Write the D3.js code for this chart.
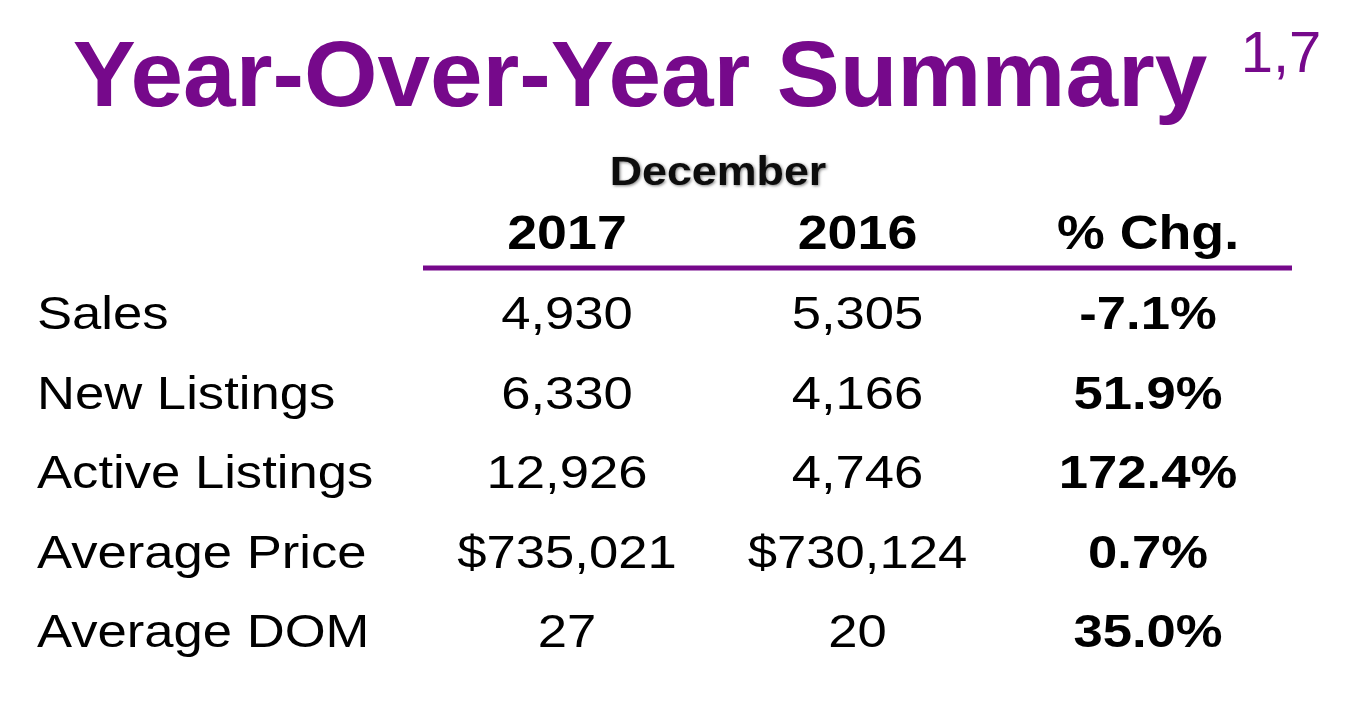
<!DOCTYPE html>
<html><head><meta charset="utf-8">
<script src="https://cdn.jsdelivr.net/npm/d3@7"></script>
<style>body{margin:0;background:#fff}text{font-family:"Liberation Sans",Arial,sans-serif}</style>
</head><body>
<svg id="c" width="1345" height="701"></svg>
<script>
const metrics = ["Sales","New Listings","Active Listings","Average Price","Average DOM"];
const columns = ["2017","2016","% Chg."];
const values2017 = ["4,930","6,330","12,926","$735,021","27"];
const values2016 = ["5,305","4,166","4,746","$730,124","20"];
const pctChange = ["-7.1%","51.9%","172.4%","0.7%","35.0%"];

const svg = d3.select("#c");
const purple = "#76098b";
const SX = 1.12;
function T(sel, x, y, sx){ return sel.attr("transform",`translate(${x},${y}) scale(${sx},1)`); }

T(svg.append("text"),640,106,1.027).attr("text-anchor","middle")
  .attr("font-size",92).attr("font-weight","bold").attr("fill",purple).text("Year-Over-Year Summary");
T(svg.append("text"),1281,72,1.0).attr("text-anchor","middle")
  .attr("font-size",58).attr("fill",purple).text("1,7");

const x = d3.scalePoint().domain(columns).range([567,1148]);
const y = d3.scalePoint().domain(metrics).range([329,647]);

const f = svg.append("defs").append("filter").attr("id","sh").attr("x","-10%").attr("y","-30%").attr("width","120%").attr("height","160%");
f.append("feDropShadow").attr("dx",1).attr("dy",1).attr("stdDeviation",1.5).attr("flood-color","#000").attr("flood-opacity",0.5);
T(svg.append("text"),718,185,1.12).attr("text-anchor","middle").attr("font-size",40)
  .attr("font-weight","bold").attr("fill","#111").attr("filter","url(#sh)").text("December");

svg.selectAll(".hdr").data(columns).join("text").each(function(d){T(d3.select(this),x(d),249,SX);})
  .attr("text-anchor","middle").attr("font-size",48).attr("font-weight","bold").attr("fill","#000").text(d=>d);
svg.append("line").attr("x1",423).attr("x2",1292).attr("y1",268).attr("y2",268)
  .attr("stroke",purple).attr("stroke-width",5);

const g = svg.selectAll(".row").data(metrics).join("g").attr("transform",d=>`translate(0,${y(d)})`);
T(g.append("text"),37,0,SX).attr("font-size",47).attr("fill","#000").text(d=>d);
T(g.append("text"),x("2017"),0,SX).attr("text-anchor","middle").attr("font-size",47).text((d,i)=>values2017[i]);
T(g.append("text"),x("2016"),0,SX).attr("text-anchor","middle").attr("font-size",47).text((d,i)=>values2016[i]);
T(g.append("text"),x("% Chg."),0,SX).attr("text-anchor","middle").attr("font-size",47).attr("font-weight","bold").text((d,i)=>pctChange[i]);
</script></body></html>
